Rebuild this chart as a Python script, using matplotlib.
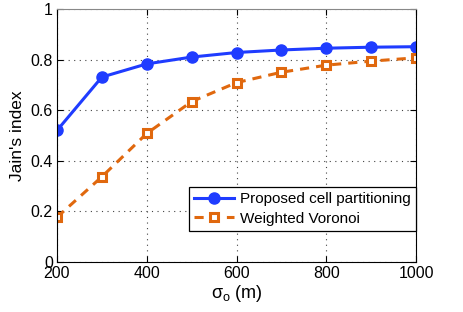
import matplotlib.pyplot as plt

plt.rcParams['font.family'] = ['Liberation Sans', 'DejaVu Sans']

sigma_o = [200, 300, 400, 500, 600, 700, 800, 900, 1000]
proposed = [0.52, 0.731, 0.783, 0.81, 0.828, 0.838, 0.845, 0.849, 0.851]
voronoi = [0.177, 0.337, 0.508, 0.634, 0.709, 0.75, 0.778, 0.794, 0.807]

fig = plt.figure(figsize=(4.63, 3.12), dpi=100)
ax = fig.add_axes([57 / 463, 1 - 262 / 312, (416 - 57) / 463, (262 - 9) / 312])

ax.plot(sigma_o, proposed, 'o-', color='#1f3cff', linewidth=2.2, markersize=8,
        label='Proposed cell partitioning')
ax.plot(sigma_o, voronoi, 's--', color='#e0680e', linewidth=2.2, markersize=6,
        markerfacecolor='white', markeredgewidth=2.2, dashes=(3, 2.3),
        label='Weighted Voronoi')

ax.set_xlim(200, 1000)
ax.set_ylim(0, 1)
ax.set_xticks([200, 400, 600, 800, 1000])
ax.set_yticks([0, 0.2, 0.4, 0.6, 0.8, 1])
ax.set_yticklabels(['0', '0.2', '0.4', '0.6', '0.8', '1'])
ax.grid(True, linestyle=(0, (1, 4)), color='#444444', linewidth=0.8)
ax.tick_params(direction='in', labelsize=11.5, length=4, top=True, right=True, pad=3)
ax.spines['top'].set_color('#888888')
ax.set_xlabel(r'$\mathregular{\sigma_o}$ (m)', fontsize=13, labelpad=1)
ax.set_ylabel("Jain's index", fontsize=12.5, labelpad=4)

leg = ax.legend(loc='lower right', bbox_to_anchor=(1.0, 31 / 253), fontsize=11,
                fancybox=False, framealpha=1, edgecolor='black', borderaxespad=0,
                handlelength=2.6, labelspacing=0.35, borderpad=0.35,
                handletextpad=0.4)
leg.get_frame().set_linewidth(0.9)

fig.savefig('out.png', dpi=100)
